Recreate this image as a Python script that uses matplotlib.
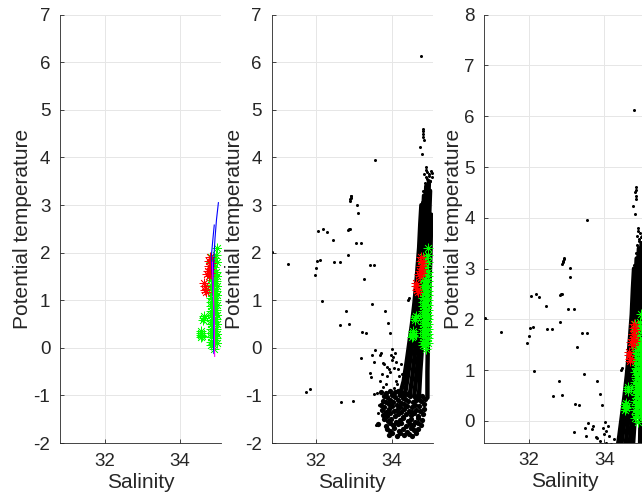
import matplotlib
matplotlib.use("Agg")
import matplotlib.pyplot as plt

plt.rcParams['font.family'] = ['Liberation Sans', 'DejaVu Sans']
plt.rcParams['axes.unicode_minus'] = False

# ---- data (salinity, potential temperature) ----
# scattered CTD points
ctd_sal = [30.84, 31.26, 31.74, 31.83, 31.96, 32.00, 32.03, 32.11, 32.15, 32.06,
           32.18, 32.28, 32.45, 32.48, 32.62, 32.63, 32.66, 32.80, 32.84, 32.86,
           32.89, 32.84, 32.87, 32.89, 32.90, 32.91, 32.92, 32.93, 32.97, 33.05,
           33.09, 33.10, 33.20, 33.20, 33.22, 33.28, 33.33, 33.42, 33.43, 33.45,
           33.47, 33.49, 33.52, 33.54, 33.55, 33.56, 33.68, 33.78, 34.00, 33.82,
           33.90, 33.95, 33.71, 34.02, 33.80, 34.06, 33.89, 34.20, 33.76, 34.06,
           34.44, 34.46, 34.79, 34.83, 34.84, 34.82, 34.83, 34.85, 34.76, 34.81,
           34.88, 34.80, 34.90, 34.95, 35.00, 35.05, 35.08, 34.92, 35.02, 34.97,
           33.62, 33.66, 33.70, 33.93, 34.12, 34.15, 34.28, 33.98, 34.10, 34.25,
           33.74, 33.85, 33.95, 34.12, 34.25, 33.98, 34.18, 34.30, 33.88, 34.05,
           34.86, 34.93, 35.03, 34.98, 34.84, 35.07, 34.90, 33.58, 33.65, 33.52]
ctd_theta = [2.02, 1.76, -0.93, -0.86, 1.53, 1.68, 1.83, 1.84, 0.99, 2.46,
             2.50, 2.43, 2.27, 1.80, 1.80, 0.49, -1.14, 0.78, 2.48, 2.49,
             2.49, 1.95, 0.51, 3.08, 3.12, 3.15, 3.18, 3.20, -1.11, 2.20,
             3.01, 2.84, 2.21, -0.22, 0.34, 1.45, 0.32, 1.74, -0.52, -0.62,
             0.92, -0.15, -0.30, 1.74, 3.95, -0.04, -0.16, -0.32, -0.26, 0.78,
             0.52, 0.32, -0.11, -0.03, -0.34, -0.43, -0.60, -0.60, -0.82, -0.84,
             1.00, 1.04, 6.13, 4.60, 4.55, 4.50, 4.42, 4.37, 4.23, 4.07,
             3.47, 3.07, 3.74, 3.70, 3.65, 3.72, 3.60, 3.58, 3.50, 3.40,
             -0.95, -1.20, -0.70, -0.45, -0.30, -0.75, -0.55, -0.15, -0.10, -0.35,
             -0.55, -0.75, -0.50, -0.70, -0.85, -0.95, -0.45, -0.65, -0.40, -0.20,
             3.65, 3.55, 3.50, 3.62, 3.30, 3.68, 3.80, -1.62, -1.38, -0.98]

# deep blob, one group of points per rough temperature band
blob_sal = [
    [33.92, 34.01, 34.13, 34.21, 34.34, 34.46, 34.54, 34.66],
    [33.87, 33.97, 34.07, 34.19, 34.29, 34.41, 34.51, 34.59, 34.71],
    [33.63, 33.84, 33.96, 34.04, 34.16, 34.26, 34.37, 34.49, 34.57, 34.69, 34.77],
    [33.79, 33.91, 33.99, 34.11, 34.21, 34.31, 34.43, 34.51, 34.63, 34.71, 34.81],
    [33.77, 33.89, 33.97, 34.09, 34.17, 34.29, 34.37, 34.51, 34.59, 34.71, 34.83],
    [33.74, 33.86, 33.94, 34.06, 34.14, 34.26, 34.34, 34.46, 34.54, 34.66, 34.74, 34.86],
    [33.72, 33.81, 33.93, 34.01, 34.13, 34.21, 34.33, 34.41, 34.53, 34.61, 34.73, 34.87],
    [33.76, 33.84, 33.96, 34.04, 34.16, 34.24, 34.36, 34.44, 34.56, 34.64, 34.79, 34.88],
    [33.81, 33.89, 34.01, 34.09, 34.21, 34.29, 34.41, 34.49, 34.61, 34.69, 34.81],
    [33.71, 33.86, 33.96, 34.09, 34.17, 34.29],
]
blob_theta = [
    [-1.84, -1.80, -1.86, -1.78, -1.83, -1.81, -1.85, -1.79],
    [-1.70, -1.75, -1.68, -1.74, -1.71, -1.76, -1.69, -1.73, -1.70],
    [-1.60, -1.64, -1.58, -1.63, -1.61, -1.57, -1.65, -1.60, -1.62, -1.58, -1.63],
    [-1.50, -1.54, -1.49, -1.55, -1.51, -1.47, -1.53, -1.50, -1.56, -1.48, -1.52],
    [-1.41, -1.44, -1.38, -1.43, -1.40, -1.45, -1.39, -1.42, -1.37, -1.44, -1.40],
    [-1.31, -1.34, -1.29, -1.33, -1.30, -1.35, -1.28, -1.32, -1.34, -1.30, -1.33, -1.29],
    [-1.20, -1.24, -1.18, -1.23, -1.21, -1.25, -1.19, -1.22, -1.24, -1.20, -1.23, -1.17],
    [-1.11, -1.13, -1.09, -1.14, -1.10, -1.15, -1.08, -1.12, -1.13, -1.10, -1.12, -1.08],
    [-1.01, -1.04, -0.99, -1.03, -1.00, -1.05, -0.98, -1.02, -1.03, -1.00, -1.02],
    [-0.92, -0.94, -0.90, -0.93, -0.91, -0.95],
]

# dense profile traces of the main column
prof_sal = [
    [34.22, 34.32, 34.40, 34.47, 34.54, 34.60, 34.65, 34.69, 34.73, 34.76, 34.79],
    [34.35, 34.43, 34.50, 34.57, 34.63, 34.69, 34.74, 34.78, 34.82, 34.86],
    [34.48, 34.55, 34.62, 34.68, 34.74, 34.79, 34.84, 34.88, 34.92],
    [34.60, 34.67, 34.73, 34.79, 34.85, 34.90, 34.95, 34.99],
    [34.72, 34.76, 34.84, 34.89, 34.94, 34.98, 35.02],
    [34.95, 34.95, 34.96, 34.98, 35.00, 35.03, 35.05],
]
prof_theta = [
    [-1.00, -0.70, -0.30, 0.10, 0.50, 0.90, 1.30, 1.70, 2.10, 2.60, 3.00],
    [-1.00, -0.60, -0.20, 0.20, 0.60, 1.00, 1.50, 2.00, 2.60, 3.20],
    [-1.00, -0.60, -0.10, 0.40, 0.90, 1.50, 2.10, 2.80, 3.40],
    [-1.00, -0.50, 0.00, 0.60, 1.20, 1.90, 2.70, 3.50],
    [-1.10, -0.50, 0.40, 0.90, 1.60, 2.40, 3.30],
    [-1.05, -0.50, 0.00, 0.60, 1.20, 2.00, 2.80],
]

# green asterisks
green_sal = [34.55, 34.57, 34.56, 34.58, 34.57, 34.63, 34.64, 34.62,
             34.82, 34.83, 34.82, 34.83, 34.82, 34.83, 34.82, 34.83, 34.82, 34.83, 34.82,
             34.83, 34.82, 34.83, 34.82, 34.83, 34.82, 34.83, 34.82, 34.83, 34.82,
             34.90, 34.89, 34.90, 34.89, 34.90, 34.89, 34.90, 34.89, 34.90, 34.89, 34.90,
             34.89, 34.90, 34.89, 34.90, 34.89, 34.90, 34.89, 34.90, 34.89, 34.90,
             34.97, 34.96, 34.97, 34.96, 34.97, 34.96, 34.97, 34.96, 34.97, 34.96, 34.97,
             34.96, 34.97, 34.96, 34.97, 34.96, 34.97, 34.96, 34.97]
green_theta = [0.22, 0.27, 0.32, 0.25, 0.35, 0.62, 0.66, 0.58,
               0.05, 0.13, 0.22, 0.31, 0.40, 0.50, 0.59, 0.68, 0.77, 0.87, 0.96,
               1.05, 1.15, 1.24, 1.33, 1.43, 1.52, 1.62, 1.71, 1.80, 1.90,
               -0.02, 0.08, 0.17, 0.27, 0.36, 0.46, 0.55, 0.64, 0.74, 0.83, 0.93,
               1.02, 1.12, 1.21, 1.31, 1.40, 1.50, 1.59, 1.69, 1.78, 1.88,
               0.10, 0.20, 0.30, 0.40, 0.50, 0.60, 0.70, 0.80, 0.90, 1.00, 1.10,
               1.20, 1.30, 1.40, 1.50, 1.60, 1.80, 1.95, 2.10]

# red asterisks
red_sal = [34.65, 34.67, 34.66, 34.69, 34.72, 34.75, 34.77, 34.78, 34.80, 34.82, 34.79, 34.81, 34.76]
red_theta = [1.36, 1.22, 1.30, 1.18, 1.55, 1.62, 1.72, 1.82, 1.65, 1.78, 1.90, 1.58, 1.50]

# lines (panel 1)
blue1_sal = [34.90, 34.90, 34.89, 34.88, 34.90, 34.93, 34.97, 35.02]
blue1_theta = [-0.12, 0.50, 1.00, 1.50, 1.90, 2.30, 2.70, 3.05]
blue2_sal = [34.91, 34.90, 34.88, 34.85, 34.83, 34.87, 34.91]
blue2_theta = [-0.10, 0.60, 1.20, 1.60, 1.90, 2.25, 2.58]
mag_sal = [34.92, 34.91, 34.89, 34.87, 34.86]
mag_theta = [-0.18, 0.50, 1.10, 1.50, 1.80]

AX_COL = '#262626'
star = (8, 2, 0)


def style_axes(ax, ylim, yticks):
    ax.set_xlim(30.82, 35.09)
    ax.set_ylim(*ylim)
    ax.set_xticks([32, 34])
    ax.set_yticks(yticks)
    ax.grid(True, color='#e6e6e6', linewidth=0.7)
    ax.set_axisbelow(True)
    for s in ['top', 'right']:
        ax.spines[s].set_visible(False)
    for s in ['left', 'bottom']:
        ax.spines[s].set_color(AX_COL)
        ax.spines[s].set_linewidth(0.6)
    ax.tick_params(direction='in', length=3, width=0.6, colors=AX_COL,
                   labelsize=13.5, pad=7)
    ax.set_xlabel('Salinity', fontsize=15, color=AX_COL, labelpad=2)
    ax.set_ylabel('Potential temperature', fontsize=15, color=AX_COL, labelpad=1)


def draw_markers(ax):
    ax.plot(green_sal, green_theta, linestyle='none', marker=star, ms=7,
            mec='#00ff00', mew=0.5)
    ax.plot(red_sal, red_theta, linestyle='none', marker=star, ms=7,
            mec='#ff0000', mew=0.5)


fig = plt.figure(figsize=(6.42, 5), dpi=100)
ax1 = fig.add_axes([0.0935, 0.114, 0.2508, 0.8566])
ax2 = fig.add_axes([0.4232, 0.114, 0.2508, 0.8566])
ax3 = fig.add_axes([0.7544, 0.1146, 0.2508, 0.856])

# panel 1
draw_markers(ax1)
ax1.plot(blue1_sal, blue1_theta, color='#0000ff', linewidth=0.8)
ax1.plot(blue2_sal, blue2_theta, color='#0000ff', linewidth=0.8)
ax1.plot(mag_sal, mag_theta, color='#ff00ff', linewidth=0.8)
style_axes(ax1, (-2, 7), range(-2, 8))

# panels 2 and 3 share the CTD cloud
for ax in (ax2, ax3):
    for s, t in zip(prof_sal, prof_theta):
        ax.plot(s, t, color='black', linewidth=3.2, solid_capstyle='round')
    for s, t in zip(blob_sal, blob_theta):
        ax.plot(s, t, linestyle='none', marker='o', ms=3.8,
                mfc='black', mec='none')
    ax.plot(ctd_sal, ctd_theta, linestyle='none', marker='o', ms=2.2,
            mfc='black', mec='none')
    draw_markers(ax)

style_axes(ax2, (-2, 7), range(-2, 8))
style_axes(ax3, (-0.43, 8), range(0, 9))

fig.savefig('out.png', dpi=100)
